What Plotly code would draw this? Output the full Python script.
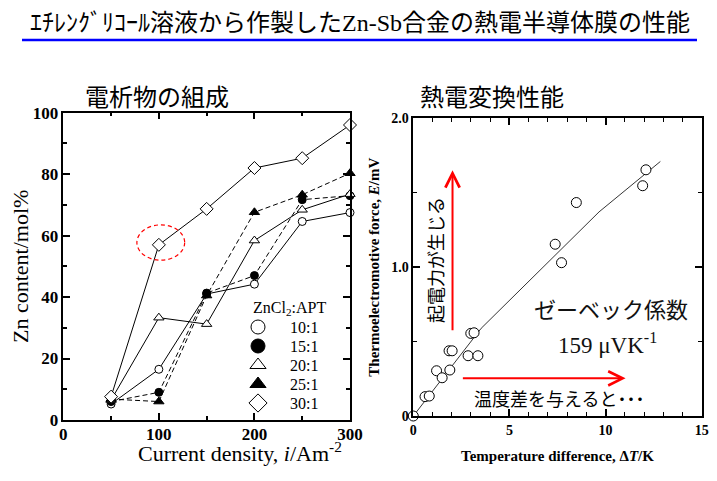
import plotly.graph_objects as go

# left panel: Zn content of the deposit vs current density
current_density = [50, 100, 150, 200, 250, 300]
zn_10 = [5.2, 16.5, 41.0, 44.2, 64.6, 67.5]
zn_15 = [6.0, 9.0, 41.3, 47.0, 71.7, 73.0]
zn_20 = [6.5, 33.3, 31.2, 58.4, 68.4, 73.5]
zn_25 = [6.8, 6.0, 40.5, 67.6, 73.3, 80.3]
zn_30 = [7.6, 57.0, 68.7, 82.0, 85.2, 96.0]
ratio_labels = ["10:1", "15:1", "20:1", "25:1", "30:1"]

# right panel: thermoelectromotive force vs temperature difference
delta_t = [0, 0.61, 0.83, 1.21, 1.5, 1.9, 1.86, 2.02, 2.85, 3.36, 2.99, 3.16,
           7.38, 7.71, 8.48, 11.93, 12.1]
emf = [0, 0.13, 0.134, 0.304, 0.257, 0.309, 0.438, 0.438, 0.405, 0.405, 0.555, 0.559,
       1.154, 1.03, 1.434, 1.547, 1.654]
fit_t = [0, 3.53, 9.66, 12.85]
fit_emf = [0, 0.589, 1.371, 1.71]

# dashed red ellipse around the 30:1 point at 100 A/m2 (x0, x1, y0, y1)
highlight = [77, 127, 52, 63.5]

serif = "Liberation Serif"
jp = "Noto Sans CJK JP"

# page body has an 8px margin, so the figure is a bit smaller and shifted
W, H = 701, 465
def px(x):
    return (x - 8) / W
def py(y):
    return 1 - (y - 8) / H

series = [
    (zn_10, "circle", "white", "solid", 8),
    (zn_15, "circle", "black", "5px,3px", 8),
    (zn_20, "triangle-up", "white", "solid", 9),
    (zn_25, "triangle-up", "black", "5px,3px", 9),
    (zn_30, "diamond", "white", "solid", 10),
]

fig = go.Figure()
for vals, sym, fill, dash, size in series:
    fig.add_trace(go.Scatter(
        x=current_density, y=vals, mode="lines+markers",
        line=dict(color="black", width=1, dash=dash),
        marker=dict(symbol=sym, size=size, color=fill, line=dict(color="black", width=1)),
        showlegend=False, cliponaxis=False, xaxis="x", yaxis="y"))

# hand-made legend on its own hidden axes: one row per ratio
rows = list(range(1, len(ratio_labels) + 1))
fig.add_trace(go.Scatter(
    x=[0] * len(rows), y=rows, mode="markers",
    marker=dict(symbol=[s[1] for s in series], size=14, color=[s[2] for s in series],
                line=dict(color="black", width=1)),
    showlegend=False, hoverinfo="skip", cliponaxis=False, xaxis="x3", yaxis="y3"))

fig.add_trace(go.Scatter(x=fit_t, y=fit_emf, mode="lines",
                         line=dict(color="black", width=0.8),
                         showlegend=False, xaxis="x2", yaxis="y2"))
fig.add_trace(go.Scatter(x=delta_t, y=emf, mode="markers",
                         marker=dict(symbol="circle", size=10, color="white",
                                     line=dict(color="black", width=1)),
                         showlegend=False, cliponaxis=False, xaxis="x2", yaxis="y2"))

axis_common = dict(ticks="inside", tickcolor="black", tickwidth=1.5, showline=True,
                   linecolor="black", linewidth=1.5, mirror="ticks", showgrid=False,
                   zeroline=False, automargin=False)

left_tick = dict(family=serif, size=17, color="black", weight="bold")
right_tick = dict(family=serif, size=14, color="black", weight="bold")

fig.update_layout(
    width=W, height=H, autosize=False,
    margin=dict(l=0, r=0, t=0, b=0),
    paper_bgcolor="white", plot_bgcolor="white",
    showlegend=False,
    xaxis=dict(domain=[px(63.3), px(350)], range=[0, 300], tick0=0, dtick=100, ticklen=7,
               minor=dict(dtick=50, ticks="inside", ticklen=4, tickcolor="black", tickwidth=1.5),
               tickfont=left_tick, anchor="y", ticklabelstandoff=-2, **axis_common),
    yaxis=dict(domain=[py(420), py(112.7)], range=[0, 100], tick0=0, dtick=20, ticklen=7,
               minor=dict(dtick=10, ticks="inside", ticklen=4, tickcolor="black", tickwidth=1.5),
               tickfont=left_tick, anchor="x",
               title=dict(text="Zn content/mol%", standoff=8,
                          font=dict(family=serif, size=22, color="black")),
               **axis_common),
    xaxis2=dict(domain=[px(413.3), px(701.7)], range=[0, 15], tick0=0, dtick=5, ticklen=7,
                minor=dict(dtick=1, ticks="inside", ticklen=4, tickcolor="black", tickwidth=1),
                tickfont=right_tick, anchor="y2",
                title=dict(text="Temperature difference, Δ<i>T</i>/K", standoff=14,
                           font=dict(family=serif, size=15, color="black", weight="bold")),
                **axis_common),
    yaxis2=dict(domain=[py(416), py(118.3)], range=[0, 2], tickvals=[0, 1, 2],
                ticktext=["0", "1.0", "2.0"], ticklen=7,
                minor=dict(tickmode="linear", tick0=0, dtick=0.5, ticks="inside", ticklen=4,
                           tickcolor="black", tickwidth=1),
                tickfont=right_tick, anchor="x2",
                title=dict(text="Thermoelectromotive force, <i>E</i>/mV", standoff=8,
                           font=dict(family=serif, size=15, color="black", weight="bold")),
                **axis_common),
    xaxis3=dict(domain=[px(248), px(340)], range=[-10, 82], visible=False, anchor="y3"),
    yaxis3=dict(domain=[py(412.5), py(298.5)], range=[5.5, -0.5], visible=False, anchor="x3"),
    shapes=[
        dict(type="line", xref="paper", yref="paper", x0=px(22), x1=px(697),
             y0=py(40), y1=py(40), line=dict(color="#0000ff", width=2.5)),
        dict(type="circle", xref="x", yref="y", x0=highlight[0], x1=highlight[1],
             y0=highlight[2], y1=highlight[3], line=dict(color="red", width=1.2, dash="4px,3px")),
    ],
)

def note(text, x, y, font, xref="paper", yref="paper", **kw):
    d = dict(text=text, x=x, y=y, xref=xref, yref=yref, showarrow=False,
             xanchor="center", yanchor="middle", font=font)
    d.update(kw)
    return d

annotations = [
    note("ｴﾁﾚﾝｸﾞﾘｺｰﾙ溶液から作製した<span style=\"font-family:Liberation Serif\">Zn-Sb</span>合金の熱電半導体膜の性能",
         px(360), py(21), dict(family=jp, size=24, color="black")),
    note("電析物の組成", px(157), py(95), dict(family=jp, size=24, color="black")),
    note("熱電変換性能", px(492), py(95), dict(family=jp, size=24, color="black")),
    note("Current density, <i>i</i>/Am<sup>-2</sup>", px(240), py(452),
         dict(family=serif, size=22, color="black")),
    note("ZnCl<sub>2</sub>:APT", -7, 0, dict(family=serif, size=16, color="black"),
         xref="x3", yref="y3", xanchor="left"),
    note("ゼーベック係数", 10.28, 0.725, dict(family=jp, size=22, color="#111"),
         xref="x2", yref="y2"),
    note("159 μVK<sup>-1</sup>", 10.12, 0.49, dict(family=serif, size=23, color="#111"),
         xref="x2", yref="y2"),
    note("温度差を与えると<b>･･･</b>", 7.59, 0.121, dict(family=jp, size=18, color="black"),
         xref="x2", yref="y2"),
    note("起電力が生じる", 1.12, 1.047, dict(family=jp, size=18, color="black"),
         xref="x2", yref="y2", textangle=-90),
    dict(text="", x=2.04, y=1.651, ax=2.04, ay=0.566, xref="x2", yref="y2",
         axref="x2", ayref="y2", showarrow=True, arrowhead=5, arrowsize=1.4,
         arrowwidth=2, arrowcolor="red"),
    dict(text="", x=11.04, y=0.253, ax=2.5, ay=0.253, xref="x2", yref="y2",
         axref="x2", ayref="y2", showarrow=True, arrowhead=5, arrowsize=1.4,
         arrowwidth=2, arrowcolor="red"),
]
for r, lab in zip(rows, ratio_labels):
    annotations.append(note(lab, 30, r, dict(family=serif, size=16, color="black"),
                            xref="x3", yref="y3", xanchor="left"))
fig.update_layout(annotations=annotations)

fig.write_html("out.html")
